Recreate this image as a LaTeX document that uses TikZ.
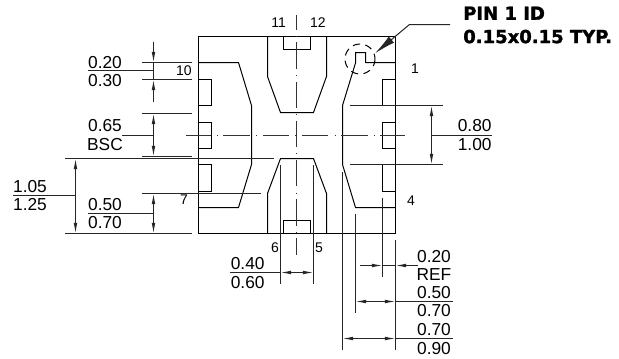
\documentclass[tikz,border=0pt]{standalone}
\usepackage{fontspec}
\setmainfont{Liberation Sans}
\newfontfamily\pinfont[FakeBold=1.6]{DejaVu Sans Bold}
\usetikzlibrary{arrows.meta}
\tikzset{
  >={Latex[length=8pt,width=2.8pt]},
  outline/.style={line width=0.75pt},
  dimline/.style={line width=0.75pt,black!85},
  centerline/.style={line width=0.75pt,black!80,dash pattern=on 20pt off 4.6pt on 0.15pt off 4.6pt},
  dimtext/.style={inner sep=0pt,font=\fontsize{13}{13}\selectfont},
  pintext/.style={inner sep=0pt,font=\fontsize{10.5}{10.5}\selectfont},
  idtext/.style={inner sep=0pt,anchor=west,align=left,font=\pinfont\fontsize{13.5}{17.5}\selectfont}
}
\begin{document}
\begin{tikzpicture}[x=0.75pt,y=-0.75pt]
  \useasboundingbox (0,0) rectangle (619,358);

  % package body
  \draw[outline] (198.5,36.5) rectangle (395.5,233.5);

  % side pads
  \draw[outline] (198.5,62.5) -- (238.5,62.5) -- (251.5,105.5) -- (251.5,164.5) -- (238.5,207.5) -- (198.5,207.5);
  \draw[outline] (395.5,62.5) -- (365.5,62.5) -- (365.5,52.5) -- (355.5,52.5) -- (355.5,63) -- (342.5,105.5)
    -- (342.5,164.5) -- (355.5,207.5) -- (395.5,207.5);

  % top and bottom pads
  \draw[outline] (267.5,36.5) -- (267.5,76.5) -- (280.5,112.5) -- (313.5,112.5) -- (326.5,76.5) -- (326.5,36.5);
  \draw[outline] (267.5,233.5) -- (267.5,193.5) -- (280.5,158.5) -- (313.5,158.5) -- (326.5,193.5) -- (326.5,233.5);
  \draw[outline] (283.5,36.5) -- (283.5,49.5) -- (310.5,49.5) -- (310.5,36.5);
  \draw[outline] (283.5,233.5) -- (283.5,220.5) -- (310.5,220.5) -- (310.5,233.5);

  % notches on both sides
  \foreach \ya/\yb in {79.5/105.5,122.5/148.5,164.5/191.5}
    {\draw[outline] (198.5,\ya) -- (211.5,\ya) -- (211.5,\yb) -- (198.5,\yb);
     \draw[outline] (395.5,\ya) -- (382.5,\ya) -- (382.5,\yb) -- (395.5,\yb);}

  % center lines
  \draw[centerline,dash phase=1.5pt] (186.3,135.5) -- (405,135.5);
  \draw[centerline,dash phase=8.8pt] (296.5,15) -- (296.5,255);

  % pin 1 mark
  \draw[line width=0.75pt,dash pattern=on 5.5pt off 4pt] (360,59) circle (15);
  \coordinate (idstart) at (450,24.5);
  \coordinate (idbend) at (409.5,24.5);
  \coordinate (idtip) at (375,53.3);
  \draw[dimline,-{Latex[length=16pt,width=6pt]}] (idstart) -- (idbend) -- (idtip);

  % named ends of the dimension lines
  \foreach \x/\y/\n in {153.5/41.5/a1,153.5/62.5/a2,153.5/79.5/a3,153.5/101.5/a4,87.5/70.5/a5,153.5/70.5/a6,
      153.5/113.5/b1,153.5/156.5/b2,122/135.5/b3,153.5/135.5/b4,
      75.5/158.5/c1,75.5/233.5/c2,13/195.5/c3,75.5/195.5/c4,
      153.5/193.5/d1,153.5/233.5/d2,87.5/213.5/d3,153.5/213.5/d4,
      431.5/105.5/e1,431.5/164.5/e2,431.5/135.5/e3,492/135.5/e4,
      230/272.5/f1,280.5/272.5/f2,313.5/272.5/f3,
      359.5/265.5/g1,382.5/265.5/g2,395.5/265.5/g3,418/265.5/g4,
      355.5/301.5/h1,395.5/301.5/h2,452.5/301.5/h3,
      342.5/338.5/i1,395.5/338.5/i2,452.5/338.5/i3}
    {\coordinate (\n) at (\x,\y);}

  % extension lines
  \foreach \xa/\ya/\xb/\yb in {142/62.5/192/62.5,142/79.5/192/79.5,142/113.5/192/113.5,142/156.5/192/156.5,
      65/158.5/274/158.5,65/233.5/192/233.5,142/193.5/260.5/193.5,
      349.5/105.5/442.5/105.5,349.5/164.5/442.5/164.5,
      280.5/165/280.5/283.5,313.5/165/313.5/283.5,
      395.5/240/395.5/349.5,382.5/197.5/382.5/276.5,355.5/214/355.5/312.5,342.5/171.5/342.5/349.5}
    {\draw[dimline] (\xa,\ya) -- (\xb,\yb);}

  % dimension lines
  \draw[dimline,->] (a1) -- (a2);
  \draw[dimline,->] (a4) -- (a3);
  \draw[dimline] (a2) -- (a3);
  \draw[dimline] (a5) -- (a6);
  \draw[dimline,<->] (b1) -- (b2);
  \draw[dimline] (b3) -- (b4);
  \draw[dimline,<->] (c1) -- (c2);
  \draw[dimline] (c3) -- (c4);
  \draw[dimline,<->] (d1) -- (d2);
  \draw[dimline] (d3) -- (d4);
  \draw[dimline,<->] (e1) -- (e2);
  \draw[dimline] (e3) -- (e4);
  \draw[dimline] (f1) -- (f2);
  \draw[dimline,<->] (f2) -- (f3);
  \draw[dimline,->] (g1) -- (g2);
  \draw[dimline,->] (g4) -- (g3);
  \draw[dimline] (g2) -- (g3);
  \draw[dimline,<->] (h1) -- (h2);
  \draw[dimline] (h2) -- (h3);
  \draw[dimline,<->] (i1) -- (i2);
  \draw[dimline] (i2) -- (i3);

  % dimension texts
  \foreach \x/\y/\t/\n in {105/62.3/0.20/ta,105/81/0.30/tb,105/126/0.65/tc,105/145/BSC/td,
      30/186.7/1.05/te,30/205/1.25/tf,105/204.7/0.50/tg,105/223/0.70/th,
      474.7/126/0.80/ti,474.7/145/1.00/tj,247.7/264/0.40/tk,247.7/282.7/0.60/tl,
      434/256.7/0.20/tm,434/275/REF/tn,434/292.7/0.50/to,434/311/0.70/tp,434/329.7/0.70/tq,434/348.3/0.90/tr}
    {\node[dimtext] (\n) at (\x,\y) {\t};}

  % pin numbers
  \foreach \x/\y/\t/\n in {184/70.7/10/p10,184/200/7/p7,278.7/23/11/p11,318/23/12/p12,
      415/69/1/p1,411/201/4/p4,275/248/6/p6,319/248/5/p5}
    {\node[pintext] (\n) at (\x,\y) {\t};}

  % pin 1 note
  \node[idtext] (idnote) at (463,25) {PIN 1 ID\\0.15x0.15 TYP.};
\end{tikzpicture}
\end{document}
